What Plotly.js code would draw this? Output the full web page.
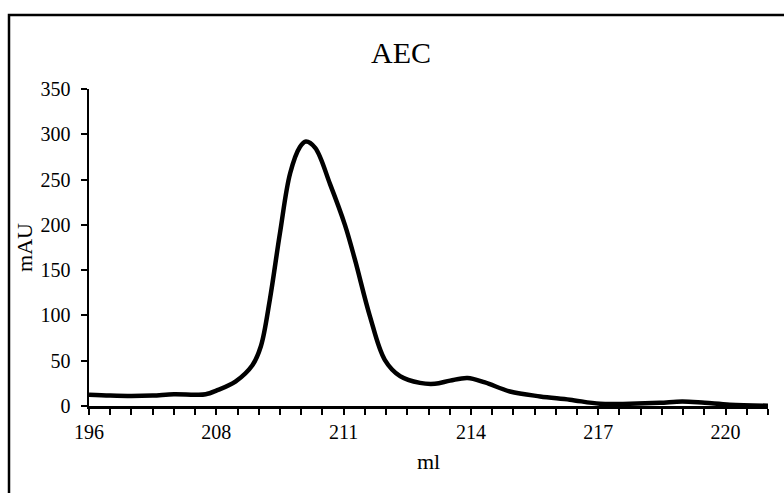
<!DOCTYPE html>
<html>
<head>
<meta charset="utf-8">
<script src="https://cdn.plot.ly/plotly-3.0.1.min.js"></script>
<style>html,body{margin:0;padding:0;background:#fff;}#chart{width:784px;height:493px;}</style>
</head>
<body>
<div id="chart"></div>
<script>
// Elution volume (ml) and absorbance (mAU)
const volumeMl = [205.0, 205.5, 206.0, 206.5, 207.0, 207.5, 207.75, 208.0, 208.45, 208.85, 209.05, 209.26, 209.5, 209.74, 209.97, 210.11, 210.33, 210.68, 211.03, 211.27, 211.62, 211.97, 212.33, 212.8, 213.15, 213.51, 213.92, 214.33, 214.92, 215.63, 216.33, 217.04, 217.75, 218.45, 218.98, 219.51, 220.1, 221.0];
const absorbanceMAU = [12.5, 11.5, 11, 11.5, 13, 12.5, 13, 17, 27, 45, 66, 117, 191, 257, 286, 292, 285, 245, 200, 161, 99, 51, 33, 25.5, 24.5, 28, 31, 26, 16, 10.6, 7, 2.5, 2.5, 3.5, 5, 3.5, 1.5, 0.3];
const tickPositions = [205, 208, 211, 214, 217, 220];
const tickLabels = ["196", "208", "211", "214", "217", "220"];
const yTicks = [0, 50, 100, 150, 200, 250, 300, 350];

const serif = "Liberation Serif";

const trace = {
  x: volumeMl,
  y: absorbanceMAU,
  type: "scatter",
  mode: "lines",
  line: {color: "#000000", width: 4.5, shape: "spline", smoothing: 1},
  hoverinfo: "x+y"
};

const layout = {
  width: 784,
  height: 493,
  margin: {l: 89, r: 16, t: 89, b: 87},
  paper_bgcolor: "#ffffff",
  plot_bgcolor: "#ffffff",
  showlegend: false,
  font: {family: serif, color: "#000000", size: 20},
  title: {
    text: "AEC",
    font: {family: serif, size: 30, color: "#000000"},
    x: 401/784, xref: "container", xanchor: "center",
    y: 1 - 52/493, yref: "container", yanchor: "middle"
  },
  xaxis: {
    type: "linear",
    range: [205, 221],
    tickmode: "array",
    tickvals: tickPositions,
    ticktext: tickLabels,
    ticks: "outside",
    ticklen: 6,
    tickwidth: 2,
    tickcolor: "#000000",
    showline: true,
    linecolor: "#000000",
    linewidth: 2.5,
    showgrid: false,
    zeroline: false,
    tickfont: {family: serif, size: 20, color: "#000000"},
    minor: {dtick: 0.5, tick0: 205, ticks: "outside", ticklen: 6, tickwidth: 2, tickcolor: "#000000", showgrid: false},
    title: {text: "ml", font: {family: serif, size: 22, color: "#000000"}, standoff: 12}
  },
  yaxis: {
    range: [0, 350],
    tickmode: "array",
    tickvals: yTicks,
    ticks: "outside",
    ticklen: 6,
    tickwidth: 2,
    tickcolor: "#000000",
    showline: true,
    linecolor: "#000000",
    linewidth: 2.5,
    showgrid: false,
    zeroline: false,
    ticklabelstandoff: 6,
    tickfont: {family: serif, size: 20, color: "#000000"},
    title: {text: "mAU", font: {family: serif, size: 22, color: "#000000"}, standoff: 2}
  },
  shapes: [{
    type: "rect", xref: "paper", yref: "paper",
    x0: (9 - 89) / 679, x1: (800 - 89) / 679,
    y0: (406 - 510) / 317, y1: (406 - 15) / 317,
    line: {color: "#000000", width: 2.5},
    fillcolor: "rgba(0,0,0,0)",
    layer: "below"
  }]
};

Plotly.newPlot("chart", [trace], layout, {displayModeBar: false, staticPlot: true});
</script>
</body>
</html>
